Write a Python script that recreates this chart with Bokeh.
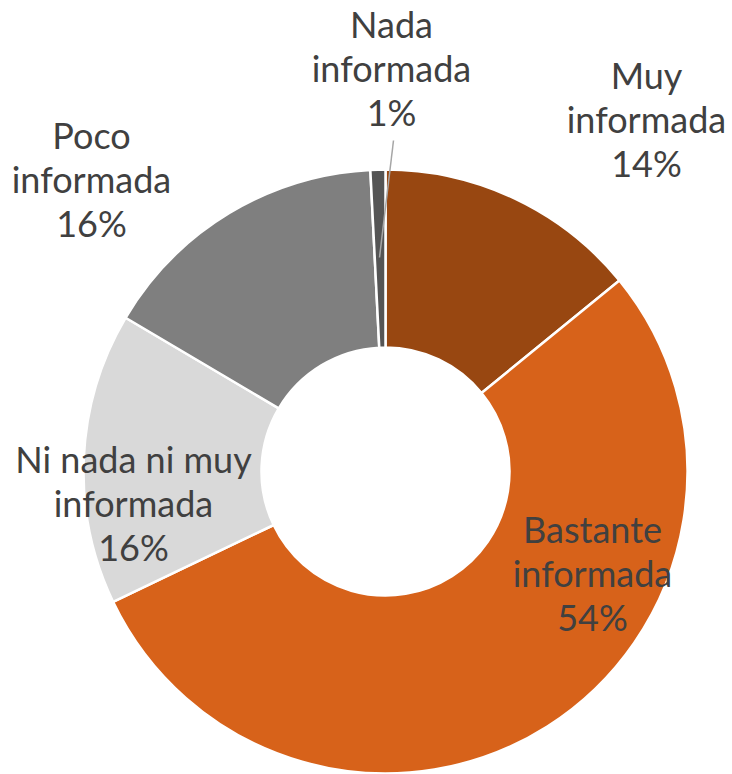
import math
from bokeh.plotting import figure
from bokeh.models import Range1d, ColumnDataSource
from bokeh.embed import file_html
from bokeh.resources import INLINE
from bokeh.core.properties import value

# ---- data ----
categories = ["Muy informada", "Bastante informada", "Ni nada ni muy informada",
              "Poco informada", "Nada informada"]
label_lines = [["Muy", "informada"], ["Bastante", "informada"],
               ["Ni nada ni muy", "informada"], ["Poco", "informada"],
               ["Nada", "informada"]]
shares = [14.1, 53.8, 15.6, 15.7, 0.8]
colors = ["#984711", "#D7621A", "#D9D9D9", "#7F7F7F", "#555555"]

# ---- layout constants (screen pixel coordinates) ----
W, H = 732, 774
CX, CY = 385, 471          # donut centre
R_OUT, R_IN = 302, 124
# first-line baseline anchor of each label (x centre, y baseline)
label_anchor = [(646, 88), (592, 542), (133, 472), (91, 148), (391, 37)]
LINE_GAP = 44
TEXT_DY = -14
FONT = "Lato"
FONT_SIZE = "36px"


def ys(y):
    """screen y (from image top) -> data y"""
    return 774 - y


p = figure(width=W, height=H, output_backend="svg", toolbar_location=None,
           x_axis_type=None, y_axis_type=None,
           x_range=Range1d(0, W), y_range=Range1d(774 - H, 774),
           min_border=0, outline_line_color=None, background_fill_color="white",
           border_fill_color="white")
p.grid.visible = False

total = sum(shares)
starts, ends = [], []
cum = 0.0
for s in shares:
    a0 = math.pi / 2 - 2 * math.pi * cum / total
    cum += s
    a1 = math.pi / 2 - 2 * math.pi * cum / total
    starts.append(a0)
    ends.append(a1)

src = ColumnDataSource(dict(start=starts, end=ends, color=colors, name=categories))
p.annular_wedge(x=CX, y=ys(CY), inner_radius=R_IN, outer_radius=R_OUT,
                start_angle="start", end_angle="end", direction="clock",
                fill_color="color", line_color="white", line_width=2.5, source=src)

# leader line for the small slice
p.line(x=[393, 379], y=[ys(140), ys(257)], line_color="#A6A6A6", line_width=1.5)

tx, ty, tt = [], [], []
for lines, s, (ax, ay) in zip(label_lines, shares, label_anchor):
    all_lines = lines + ["%d%%" % math.floor(s + 0.5)]
    for i, ln in enumerate(all_lines):
        tx.append(ax)
        ty.append(ys(ay + TEXT_DY + i * LINE_GAP))
        tt.append(ln)

p.text(x=tx, y=ty, text=tt, text_align="center", text_baseline="alphabetic",
       text_font=value(FONT), text_font_size=FONT_SIZE, text_color="#404040")

open("out.html", "w").write(file_html(p, INLINE))
